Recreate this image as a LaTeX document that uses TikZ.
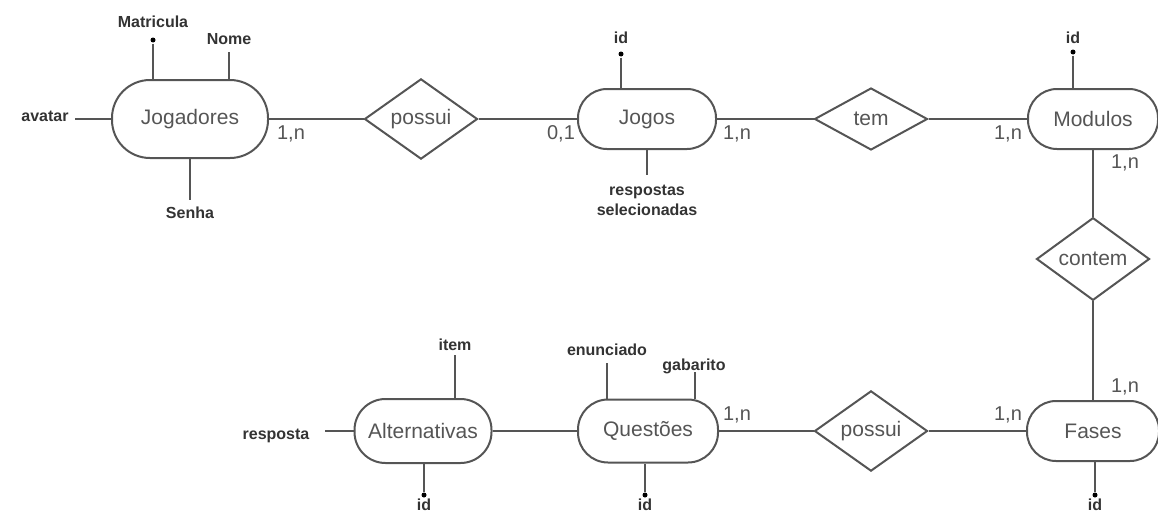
\documentclass[tikz,border=0pt]{standalone}
\usepackage{fontspec}
\setmainfont{Liberation Sans}
\usetikzlibrary{shapes.geometric}
\definecolor{linegray}{HTML}{555555}
\definecolor{textgray}{HTML}{555555}
\definecolor{attrgray}{HTML}{333333}

\begin{document}
\begin{tikzpicture}[x = 1pt, y = -1pt, line width = 2pt, draw = linegray,
                        entity/.style = {draw, rounded corners = 29pt, minimum width = 138pt, minimum height = 60pt,
                                         font = \fontsize{21}{24}\selectfont, text = textgray},
                        rel/.style = {diamond, draw, minimum width = 113pt, minimum height = 62pt, inner sep = 0pt,
                                      font = \fontsize{21}{24}\selectfont, text = textgray},
                        attr/.style = {font = \bfseries\fontsize{16}{20}\selectfont, text = attrgray, align = center, inner sep = 0pt},
                        card/.style = {font = \fontsize{20}{24}\selectfont, text = textgray, inner sep = 0pt},
                        key/.style = {circle, fill = black, inner sep = 0pt, minimum size = 5pt}]
      \useasboundingbox (0, 0) rectangle (1158, 514);
      % entidades
      \node [entity, minimum width = 156pt, minimum height = 78pt, rounded corners = 38pt] (jog) at (190, 119){Jogadores};
      \node [entity] (jogos) at (647, 119){Jogos};
      \node [entity, minimum width = 130pt] (mod) at (1093, 119){Modulos};
      \node [entity, minimum width = 132pt] (fas) at (1093, 431){Fases};
      \node [entity, minimum width = 137pt, minimum height = 64pt, rounded corners = 31pt] (alt) at (423, 431){Alternativas};
      \node [entity, minimum width = 140pt, minimum height = 63pt, rounded corners = 30pt] (que) at (648, 431){Questões};
      % relacionamentos
      \node [rel] (pos1) at (421, 119){possui};
      \node [rel] (tem) at (871, 119){tem};
      \node [rel, minimum height = 65pt] (cont) at (1093, 259){contem};
      \node [rel] (pos2) at (871, 431){possui};
      \draw (jog) -- (pos1);
      \draw (pos1) -- (jogos);
      \draw (jogos) -- (tem);
      \draw (tem) -- (mod);
      \draw (mod) -- (cont);
      \draw (cont) -- (fas);
      \draw (fas) -- (pos2);
      \draw (pos2) -- (que);
      \draw (que) -- (alt);
      % cardinalidades
      \node [card] (c1) at (291, 134){1,n};
      \node [card] (c2) at (561, 134){0,1};
      \node [card] (c3) at (737, 134){1,n};
      \node [card] (c4) at (1008, 134){1,n};
      \node [card] (c5) at (1125, 163){1,n};
      \node [card] (c6) at (1125, 387){1,n};
      \node [card] (c7) at (1008, 415){1,n};
      \node [card] (c8) at (737, 415){1,n};
      % atributos de Jogadores
      \node [attr] (mat) at (153, 22){Matricula};
      \node [key] (matk) at (153, 40){};
      \draw (matk) -- (matk |- jog.north);
      \node [attr] (nom) at (229, 39){Nome};
      \coordinate (noml) at (229, 52);
      \draw (noml) -- (noml |- jog.north);
      \node [attr] (ava) at (45, 116){avatar};
      \coordinate (aval) at (75, 119);
      \draw (aval) -- (jog.west);
      \node [attr] (sen) at (190, 213){Senha};
      \coordinate (senl) at (190, 200);
      \draw (jog.south) -- (senl);
      % atributos de Jogos
      \node [attr] (jid) at (621, 38){id};
      \node [key] (jidk) at (621, 54){};
      \draw (jidk) -- (jidk |- jogos.north);
      \node [attr] (resp) at (647, 200){respostas\\selecionadas};
      \coordinate (respl) at (647, 175);
      \draw (jogos.south) -- (respl);
      % atributos de Modulos
      \node [attr] (mid) at (1073, 38){id};
      \node [key] (midk) at (1073, 52){};
      \draw (midk) -- (midk |- mod.north);
      % atributos de Fases
      \node [key] (fidk) at (1095, 495){};
      \node [attr] (fid) at (1095, 505){id};
      \draw (fidk) -- (fidk |- fas.south);
      % atributos de Alternativas
      \node [attr] (ite) at (455, 345){item};
      \coordinate (itel) at (455, 355);
      \draw (itel) -- (itel |- alt.north);
      \node [attr] (rsp) at (276, 436){resposta};
      \coordinate (rspl) at (325, 431);
      \draw (rspl) -- (alt.west);
      \node [key] (aidk) at (424, 495){};
      \node [attr] (aid) at (424, 505){id};
      \draw (aidk) -- (aidk |- alt.south);
      % atributos de Questões
      \node [attr] (enu) at (607, 350){enunciado};
      \coordinate (enul) at (607, 363);
      \draw (enul) -- (enul |- que.north);
      \node [attr] (gab) at (694, 366){gabarito};
      \coordinate (gabl) at (695, 372);
      \draw (gabl) -- (gabl |- que.north);
      \node [key] (qidk) at (645, 495){};
      \node [attr] (qid) at (645, 505){id};
      \draw (qidk) -- (qidk |- que.south);
    \end{tikzpicture}
\end{document}
